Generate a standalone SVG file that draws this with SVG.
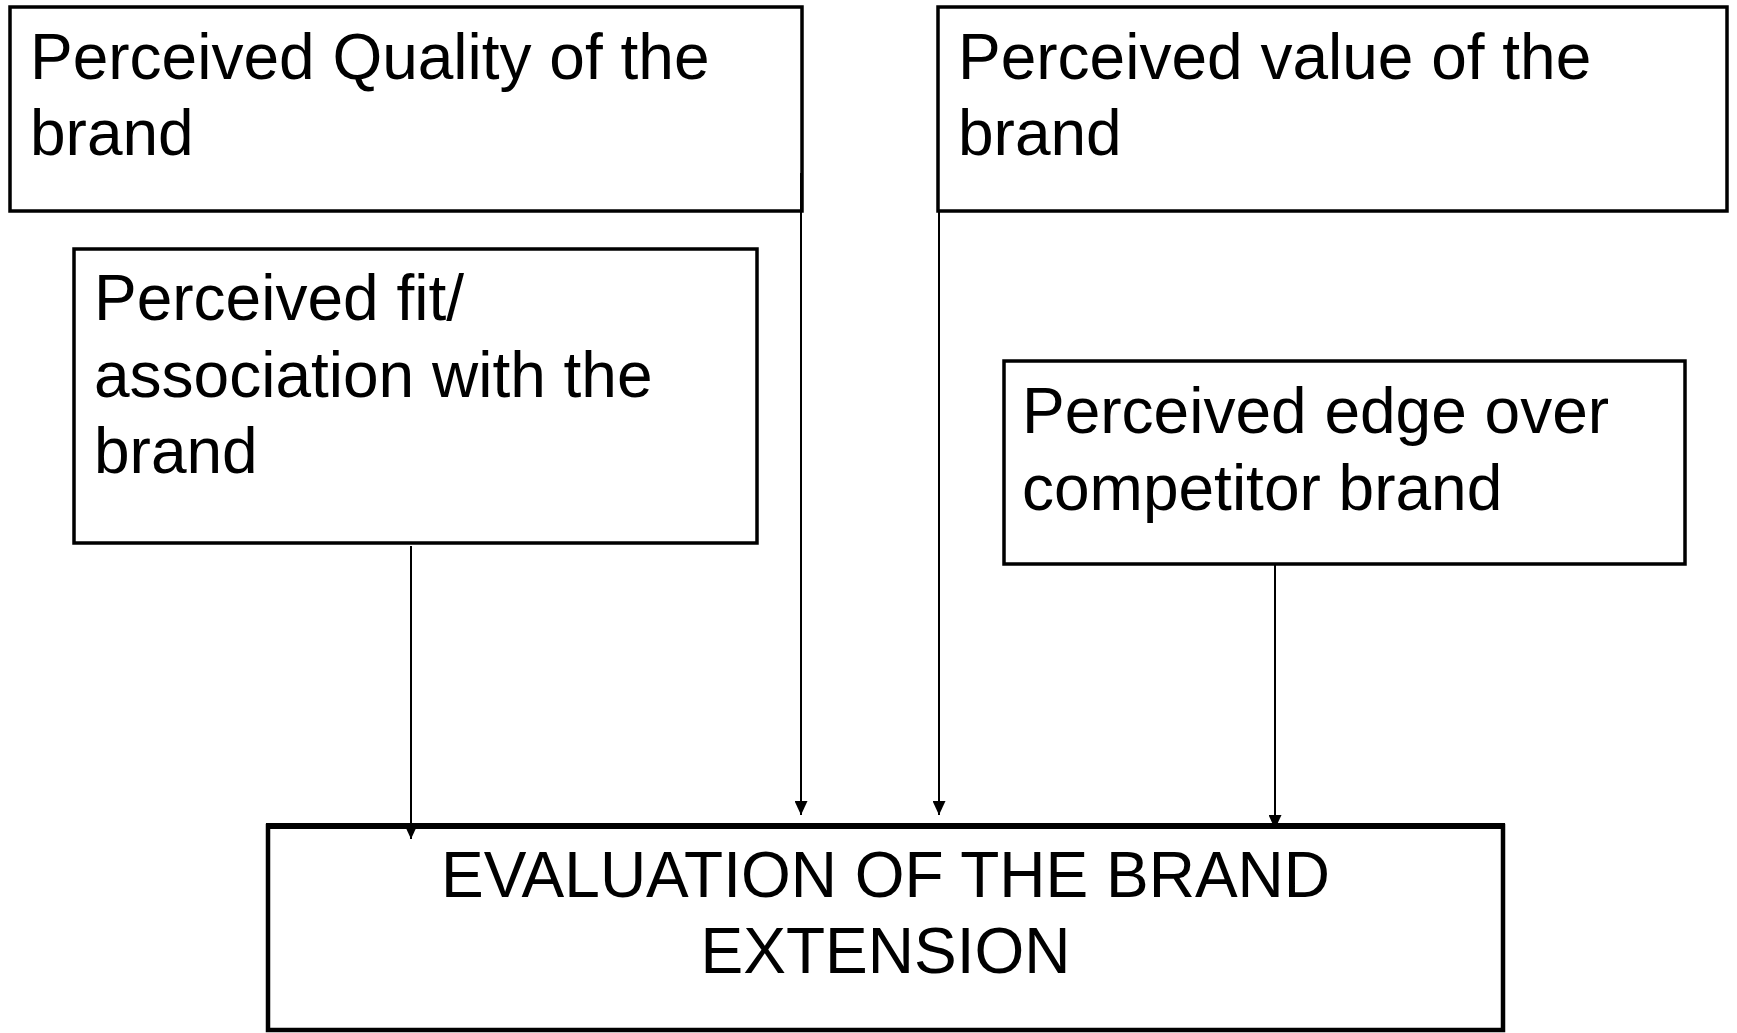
<svg xmlns="http://www.w3.org/2000/svg" width="1737" height="1033" viewBox="0 0 1737 1033">
<defs>
<style>
.box{fill:none;stroke:#000;stroke-width:3.5}
.t{font-family:"Liberation Sans",Arial,sans-serif;font-size:64px;fill:#000}
.c{fill:none;stroke:#000;stroke-width:2}
</style>
<marker id="ah" markerUnits="userSpaceOnUse" markerWidth="14" markerHeight="13" refX="14" refY="6.5" orient="auto" viewBox="0 0 14 13">
<path d="M0,0 L14,6.5 L0,13 z" fill="#000"/>
</marker>
</defs>
<rect width="1737" height="1033" fill="#fff"/>
<g id="quality">
<rect class="box" x="10" y="7" width="792" height="204"/>
<text class="t" x="30" y="79">Perceived Quality of the</text>
<text class="t" x="30" y="155">brand</text>
</g>
<g id="value">
<rect class="box" x="938" y="7" width="789" height="204"/>
<text class="t" x="958" y="79">Perceived value of the</text>
<text class="t" x="958" y="155">brand</text>
</g>
<g id="fit">
<rect class="box" x="74" y="249" width="683" height="294"/>
<text class="t" x="94" y="320">Perceived fit/</text>
<text class="t" x="94" y="397">association with the</text>
<text class="t" x="94" y="473">brand</text>
</g>
<g id="edge">
<rect class="box" x="1004" y="361" width="681" height="203"/>
<text class="t" x="1022" y="433">Perceived edge over</text>
<text class="t" x="1022" y="510">competitor brand</text>
</g>
<g id="evaluation">
<rect class="box" x="268" y="826" width="1235" height="204" style="stroke-width:4.5"/>
<line x1="266" y1="826" x2="1505" y2="826" stroke="#000" stroke-width="6"/>
<text class="t" x="885.5" y="897" text-anchor="middle">EVALUATION OF THE BRAND</text>
<text class="t" x="885.5" y="973" text-anchor="middle">EXTENSION</text>
</g>
<g id="connectors">
<line class="c" x1="411" y1="546" x2="411" y2="839" marker-end="url(#ah)"/>
<line class="c" x1="801" y1="173" x2="801" y2="815" marker-end="url(#ah)"/>
<line class="c" x1="939" y1="211" x2="939" y2="815" marker-end="url(#ah)"/>
<line class="c" x1="1275" y1="564" x2="1275" y2="829" marker-end="url(#ah)"/>
</g>
</svg>
